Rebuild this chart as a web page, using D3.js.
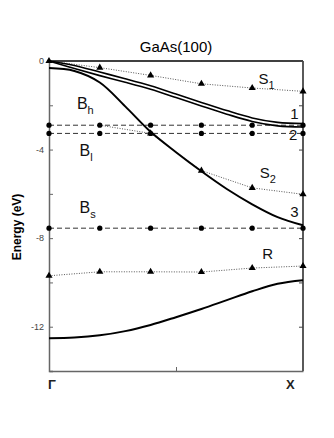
<!DOCTYPE html>
<html>
<head>
<meta charset="utf-8">
<script src="https://cdn.jsdelivr.net/npm/d3@7"></script>
<style>
  body { margin: 0; background: #fff; }
  text { font-family: "Liberation Sans", Arial, sans-serif; }
</style>
</head>
<body>
<div id="chart"></div>
<script>
// wave vector from Gamma (0) to X (1)
const kBand = [0, 0.1, 0.2, 0.3, 0.4, 0.5, 0.6, 0.7, 0.8, 0.9, 1];
const band1 = [0, -0.2, -0.5, -0.8, -1.12, -1.49, -1.87, -2.24, -2.57, -2.77, -2.82];
const band2 = [0, -0.34, -0.66, -0.96, -1.28, -1.65, -2.03, -2.4, -2.73, -2.93, -2.98];
const band3 = [-0.32, -0.45, -0.97, -2.05, -3.2, -4.12, -4.98, -5.78, -6.47, -7.05, -7.42];
const bandLow = [-12.52, -12.49, -12.39, -12.2, -11.92, -11.57, -11.2, -10.8, -10.4, -10.06, -9.9];

// surface states / bulk levels with markers
const kDots = [0, 0.2, 0.4, 0.6, 0.8, 1];
const levelBh = [-2.9, -2.9, -2.9, -2.9, -2.9, -2.9];
const levelBl = [-3.27, -3.27, -3.27, -3.27, -3.27, -3.27];
const levelBs = [-7.55, -7.55, -7.55, -7.55, -7.55, -7.55];
const stateS1 = [0, -0.3, -0.65, -1.03, -1.22, -1.37];
const stateR = [-9.7, -9.52, -9.52, -9.53, -9.35, -9.26];
const kS2 = [0.2, 0.4, 0.6, 0.8, 1];
const stateS2 = [-2.9, -3.27, -4.95, -5.73, -6.02];

const yTicks = [0, -2, -4, -6, -8, -10, -12];
const yLabels = [0, -4, -8, -12];

const width = 334, height = 438;
const margin = { top: 61, right: 31, bottom: 67, left: 49 };

const svg = d3.select("#chart").append("svg")
  .attr("width", width)
  .attr("height", height)
  .style("background", "#fff");

const x = d3.scaleLinear().domain([0, 1]).range([margin.left, width - margin.right]);
const y = d3.scaleLinear().domain([-14, 0]).range([height - margin.bottom, margin.top]);

// frame
svg.append("line").attr("x1", x(0)).attr("x2", x(1)).attr("y1", y(0)).attr("y2", y(0))
  .attr("stroke", "#000").attr("stroke-width", 1.5);
svg.append("line").attr("x1", x(1)).attr("x2", x(1)).attr("y1", y(0)).attr("y2", y(-14))
  .attr("stroke", "#000").attr("stroke-width", 1.3);

// left axis, ticks inside
const left = svg.append("g")
  .attr("transform", "translate(" + x(0) + ",0)")
  .call(d3.axisRight(y).tickValues(yTicks).tickSize(4).tickFormat(""));
left.select(".domain").attr("stroke", "#666").attr("stroke-width", 1.5);
left.selectAll(".tick line").attr("stroke", "#666");

svg.append("g").selectAll("text")
  .data(yLabels)
  .join("text")
  .attr("x", x(0) - 5)
  .attr("y", d => y(d))
  .attr("dy", "0.35em")
  .attr("text-anchor", "end")
  .attr("font-size", 9)
  .attr("fill", "#444")
  .text(d => d === 0 ? "0" : "-" + Math.abs(d));

// right axis ticks inside
const right = svg.append("g")
  .attr("transform", "translate(" + x(1) + ",0)")
  .call(d3.axisLeft(y).tickValues(yTicks).tickSize(4).tickFormat(""));
right.select(".domain").remove();
right.selectAll(".tick line").attr("stroke", "#444");

// bottom axis
const bottom = svg.append("g")
  .attr("transform", "translate(0," + y(-14) + ")")
  .call(d3.axisTop(x).tickValues([0.5]).tickSize(4).tickFormat("").tickSizeOuter(0));
bottom.select(".domain").attr("stroke", "#666").attr("stroke-width", 1.5);
bottom.selectAll(".tick line").attr("stroke", "#666");

svg.append("text").attr("x", x(0) + 3).attr("y", 389)
  .attr("text-anchor", "middle").attr("font-size", 13).attr("font-weight", "bold")
  .attr("fill", "#222").text("Γ");
svg.append("text").attr("x", x(0.95)).attr("y", 389)
  .attr("text-anchor", "middle").attr("font-size", 13).attr("font-weight", "bold")
  .attr("fill", "#222").text("X");

// title and y label
svg.append("text").attr("x", 176).attr("y", 52)
  .attr("text-anchor", "middle").attr("font-size", 15).text("GaAs(100)");
svg.append("text")
  .attr("transform", "translate(21,227) rotate(-90)")
  .attr("text-anchor", "middle").attr("font-size", 12).attr("font-weight", "bold")
  .attr("fill", "#000")
  .text("Energy (eV)");

const smooth = d3.line().x(d => x(d[0])).y(d => y(d[1])).curve(d3.curveCatmullRom.alpha(0.5));
const straight = d3.line().x(d => x(d[0])).y(d => y(d[1]));

// dashed bulk levels
[levelBh, levelBl, levelBs].forEach(vals => {
  svg.append("path")
    .attr("d", straight(d3.zip(kDots, vals)))
    .attr("fill", "none").attr("stroke", "#333").attr("stroke-width", 1)
    .attr("stroke-dasharray", "5,3");
});

// dotted surface states
[[kDots, stateS1], [kS2, stateS2], [kDots, stateR]].forEach(([ks, vals]) => {
  svg.append("path")
    .attr("d", straight(d3.zip(ks, vals)))
    .attr("fill", "none").attr("stroke", "#555").attr("stroke-width", 1)
    .attr("stroke-dasharray", "1,1.5");
});

// bands: 1 and 2 drawn thinner so they read as a double line
[[band1, 1.6], [band2, 1.6], [band3, 2], [bandLow, 2]].forEach(([vals, w]) => {
  svg.append("path")
    .attr("d", smooth(d3.zip(kBand, vals)))
    .attr("fill", "none").attr("stroke", "#000").attr("stroke-width", w);
});

// circle markers on bulk levels
[levelBh, levelBl, levelBs].forEach(vals => {
  svg.append("g").selectAll("circle")
    .data(d3.zip(kDots, vals))
    .join("circle")
    .attr("cx", d => x(d[0]))
    .attr("cy", d => y(d[1]))
    .attr("r", 2.6)
    .attr("fill", "#000");
});

// triangle markers on surface states (S2 starts on the Bh level, no marker there)
const tri = d3.symbol().type(d3.symbolTriangle).size(22);
[d3.zip(kDots, stateS1), d3.zip(kS2, stateS2).slice(1), d3.zip(kDots, stateR)].forEach(pts => {
  svg.append("g").selectAll("path")
    .data(pts)
    .join("path")
    .attr("d", tri)
    .attr("transform", d => "translate(" + x(d[0]) + "," + y(d[1]) + ")")
    .attr("fill", "#000");
});

// band / state labels
const labels = [
  { t: "S", s: "1", k: 0.825, e: -1.05, fs: 15 },
  { t: "1", s: "", k: 0.95, e: -2.6, fs: 15 },
  { t: "2", s: "", k: 0.945, e: -3.55, fs: 15 },
  { t: "B", s: "h", k: 0.11, e: -2.15, fs: 16 },
  { t: "B", s: "l", k: 0.12, e: -4.3, fs: 16 },
  { t: "S", s: "2", k: 0.83, e: -5.3, fs: 15 },
  { t: "3", s: "", k: 0.95, e: -7.03, fs: 15 },
  { t: "B", s: "s", k: 0.12, e: -6.85, fs: 16 },
  { t: "R", s: "", k: 0.84, e: -8.93, fs: 15 }
];
labels.forEach(l => {
  const txt = svg.append("text")
    .attr("x", x(l.k)).attr("y", y(l.e))
    .attr("font-size", l.fs).attr("fill", "#111")
    .text(l.t);
  if (l.s) {
    txt.append("tspan").attr("dy", 5).attr("font-size", 11).text(l.s);
  }
});
</script>
</body>
</html>
